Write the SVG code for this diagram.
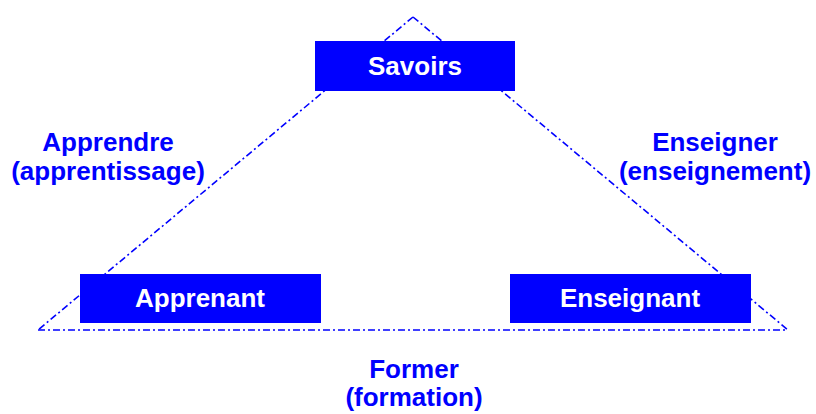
<svg xmlns="http://www.w3.org/2000/svg" width="816" height="414" viewBox="0 0 816 414">
<style>
.box{fill:#0000FF;}
.bt{fill:#FFFFFF;font-family:"Liberation Sans",Arial,sans-serif;font-weight:bold;font-size:26px;text-anchor:middle;}
.lbl{fill:#0000FF;font-family:"Liberation Sans",Arial,sans-serif;font-weight:bold;font-size:26px;text-anchor:middle;}
.edge{fill:none;stroke:#0000FF;stroke-width:1.6;stroke-dasharray:7 3 2 3;}
</style>
<rect width="816" height="414" fill="#FFFFFF"/>
<g id="connectors">
<line class="edge" x1="413" y1="17" x2="38" y2="330"/>
<line class="edge" x1="413" y1="17" x2="788" y2="330"/>
<line class="edge" x1="38" y1="330" x2="788" y2="330"/>
</g>
<g id="savoirs">
<rect class="box" x="315" y="41" width="200" height="50"/>
<text class="bt" x="415" y="75">Savoirs</text>
</g>
<g id="apprenant">
<rect class="box" x="80" y="274" width="241" height="49"/>
<text class="bt" x="200" y="307">Apprenant</text>
</g>
<g id="enseignant">
<rect class="box" x="510" y="274" width="241" height="49"/>
<text class="bt" x="630" y="307">Enseignant</text>
</g>
<g id="label-apprendre">
<text class="lbl" x="108" y="151">Apprendre</text>
<text class="lbl" x="108" y="180">(apprentissage)</text>
</g>
<g id="label-enseigner">
<text class="lbl" x="715" y="151">Enseigner</text>
<text class="lbl" x="715" y="180">(enseignement)</text>
</g>
<g id="label-former">
<text class="lbl" x="414" y="378">Former</text>
<text class="lbl" x="414" y="406">(formation)</text>
</g>
</svg>
